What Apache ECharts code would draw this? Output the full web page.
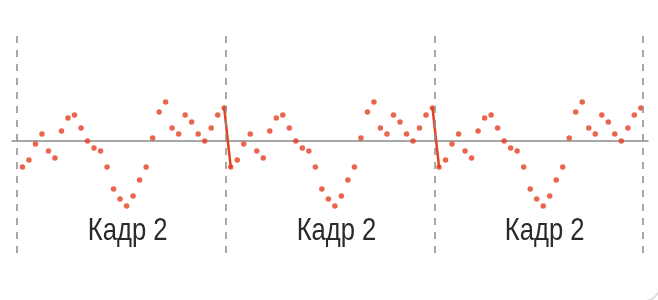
<!DOCTYPE html>
<html>
<head>
<meta charset="utf-8">
<script src="https://cdn.jsdelivr.net/npm/echarts@6/dist/echarts.min.js"></script>
<style>
  html, body { margin: 0; padding: 0; background: #fff; }
  #chart { width: 658px; height: 300px; }
</style>
</head>
<body>
<div id="chart"></div>
<script>
// one frame of samples, the picture repeats it three times
const frameValues = [-26, -19, -3, 7, -10, -17, 10, 23, 26, 13, 0, -7, -10, -26, -48, -58,
  -65, -55, -39, -26, 3, 29, 39, 13, 7, 26, 19, 7, 0, 13, 26, 33]
const frameCount = 3
const frameLabel = 'Кадр 2'
// frame borders, in sample index units
const frameEdges = [-0.8, 31.3, 63.35, 95.25]

const n = frameValues.length
const points = []
for (let f = 0; f < frameCount; f++) {
  frameValues.forEach((v, i) => points.push([f * n + i, v]))
}

// red jumps between the end of one frame and the start of the next
const jumps = []
for (let f = 0; f < frameCount - 1; f++) {
  jumps.push({
    type: 'line',
    data: [[f * n + n - 1, frameValues[n - 1]], [(f + 1) * n, frameValues[0]]],
    showSymbol: false,
    silent: true,
    lineStyle: { color: '#e3431f', width: 2.5, cap: 'round' },
    z: 3
  })
}

const chart = echarts.init(document.getElementById('chart'), null, { renderer: 'canvas' })

chart.setOption({
  backgroundColor: '#fff',
  animation: false,
  grid: { left: 12, right: 10, top: 34, bottom: 47 },
  xAxis: {
    type: 'value',
    min: -1.6,
    max: 96.1,
    axisLine: { onZero: true, lineStyle: { color: '#8a8a8a', width: 1.5 } },
    axisTick: { show: false },
    axisLabel: { show: false },
    splitLine: { show: false }
  },
  yAxis: {
    type: 'value',
    min: -112,
    max: 107,
    axisLine: { show: false },
    axisTick: { show: false },
    axisLabel: { show: false },
    splitLine: { show: false }
  },
  series: [
    {
      type: 'scatter',
      data: points,
      symbol: 'circle',
      symbolSize: 5.5,
      itemStyle: { color: '#e63d20' },
      z: 4,
      markLine: {
        silent: true,
        symbol: 'none',
        label: { show: false },
        lineStyle: { color: '#8c8c8c', width: 1.5, type: [7, 7] },
        data: frameEdges.map(x => ({ xAxis: x }))
      }
    },
    ...jumps
  ]
})

// frame captions: narrow text, so squeeze it a bit horizontally
const captions = []
for (let f = 0; f < frameCount; f++) {
  const mid = (frameEdges[f] + frameEdges[f + 1]) / 2
  const [px, py] = chart.convertToPixel({ seriesIndex: 0 }, [mid, -90])
  captions.push({
    type: 'text',
    silent: true,
    x: px + 6,
    y: py,
    scaleX: 0.8,
    style: {
      text: frameLabel,
      font: '32px "Liberation Sans", Arial, sans-serif',
      fill: '#2a2a2a',
      align: 'center',
      verticalAlign: 'middle'
    }
  })
}
captions.push({
  type: 'rect',
  silent: true,
  shape: { x: -40, y: -40, width: 700, height: 341, r: 16 },
  style: { fill: 'none', stroke: '#d6d6d6', lineWidth: 1.5 }
})
chart.setOption({ graphic: captions })
</script>
</body>
</html>
